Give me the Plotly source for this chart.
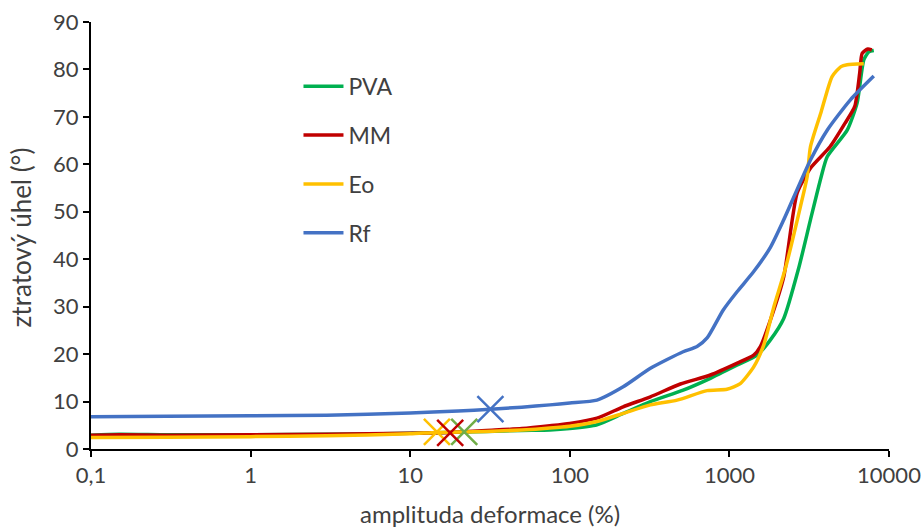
import plotly.graph_objects as go

# ---- data ----
pva_x = [0.1, 0.15, 0.3, 1, 3, 10, 21.8, 30, 50, 75, 100, 148, 216, 320, 513, 760, 1120, 1490, 1807, 2190, 2716, 3220, 3760, 4100, 5470, 6310, 6950, 7470, 8030]
pva_y = [2.9, 3.1, 3.0, 3.0, 3.1, 3.3, 3.6, 3.7, 3.9, 4.0, 4.3, 5.1, 7.5, 10.0, 12.4, 14.9, 17.7, 19.8, 23.0, 27.5, 38.1, 48.3, 57.4, 61.6, 67.2, 72.9, 82.0, 83.7, 84.0]

mm_x = [0.1, 0.15, 0.3, 1, 3, 10, 17.8, 30, 50, 75, 100, 148, 216, 320, 493, 760, 1120, 1420, 1563, 1807, 2190, 2655, 3220, 4270, 5310, 6100, 6550, 6790, 7370, 7800]
mm_y = [2.9, 3.0, 2.9, 3.0, 3.1, 3.3, 3.5, 3.9, 4.3, 4.9, 5.4, 6.5, 8.9, 11.0, 13.7, 15.6, 18.1, 19.8, 21.6, 27.2, 36.3, 53.9, 59.2, 63.7, 68.7, 72.2, 79.2, 83.4, 84.3, 84.1]

eo_x = [0.1, 0.3, 1, 3, 10, 14.7, 30, 50, 75, 100, 148, 216, 320, 470, 725, 966, 1170, 1420, 1640, 1900, 2245, 2786, 3070, 3220, 3760, 4400, 5000, 5470, 6950]
eo_y = [2.4, 2.5, 2.6, 2.8, 3.2, 3.5, 3.7, 4.0, 4.4, 4.8, 5.8, 7.5, 9.3, 10.3, 12.3, 12.6, 13.8, 17.3, 21.9, 30.0, 38.1, 51.1, 57.4, 63.7, 71.1, 78.5, 80.6, 81.0, 81.2]

rf_x = [0.1, 0.3, 1, 3, 10, 20, 31.8, 50, 75, 100, 148, 216, 320, 513, 627, 725, 915, 1120, 1420, 1807, 2190, 3220, 4100, 5730, 8030]
rf_y = [6.8, 6.9, 7.0, 7.1, 7.6, 8.0, 8.4, 8.8, 9.3, 9.7, 10.3, 13.1, 17.0, 20.5, 21.6, 23.4, 29.3, 33.2, 37.4, 42.5, 48.3, 60.9, 67.2, 73.6, 78.6]

# crossover points (X markers)
cross_names = ["Eo", "PVA", "MM", "Rf"]
cross_x = [14.7, 21.8, 17.8, 31.8]
cross_y = [3.6, 3.6, 3.4, 8.4]
cross_colors = ["#FFC000", "#70AD47", "#C00000", "#4472C4"]

x_tickvals = [0.1, 1, 10, 100, 1000, 10000]
x_ticktext = ["0,1", "1", "10", "100", "1000", "10000"]
y_tickvals = [0, 10, 20, 30, 40, 50, 60, 70, 80, 90]

x_title = "amplituda deformace (%)"
y_title = "ztratový úhel (°)"

series = [
    ("PVA", pva_x, pva_y, "#00B050"),
    ("MM", mm_x, mm_y, "#C00000"),
    ("Eo", eo_x, eo_y, "#FFC000"),
    ("Rf", rf_x, rf_y, "#4472C4"),
]

FONT = "Lato, Carlito, Calibri, sans-serif"
TXT = "#404040"

fig = go.Figure()
for i, (name, xs, ys, col) in enumerate(series):
    fig.add_trace(go.Scatter(
        x=xs, y=ys, name=name, mode="lines",
        line=dict(color=col, width=3.5, shape="spline", smoothing=0.6),
        legendgroup=f"g{i}", legendrank=i + 1,
    ))

for name, cx, cy, col in zip(cross_names, cross_x, cross_y, cross_colors):
    fig.add_trace(go.Scatter(
        x=[cx], y=[cy], mode="markers", showlegend=False,
        marker=dict(symbol="x-thin", size=26, color=col,
                    line=dict(color=col, width=2.5)),
    ))

fig.update_layout(
    width=922, height=531,
    margin=dict(l=91, r=33, t=22, b=82),
    paper_bgcolor="white", plot_bgcolor="white",
    font=dict(family=FONT, size=22, color=TXT),
    showlegend=True,
    legend=dict(
        x=0.26, y=0.90, xanchor="left", yanchor="top",
        bgcolor="rgba(0,0,0,0)", font=dict(family=FONT, size=23, color=TXT),
        traceorder="grouped", tracegroupgap=16, itemwidth=40,
    ),
    xaxis=dict(
        type="log", range=[-1, 4], automargin=False,
        tickvals=x_tickvals, ticktext=x_ticktext,
        showgrid=False, zeroline=False,
        showline=True, linecolor="black", linewidth=2,
        ticks="outside", ticklen=6, tickwidth=2, tickcolor="black",
        tickfont=dict(family=FONT, size=22, color=TXT),
    ),
    yaxis=dict(
        range=[0, 90], tickvals=y_tickvals, automargin=False,
        showgrid=False, zeroline=False,
        showline=True, linecolor="black", linewidth=2,
        ticks="outside", ticklen=6, tickwidth=2, tickcolor="black",
        tickfont=dict(family=FONT, size=22, color=TXT),
    ),
    annotations=[
        dict(text=x_title, xref="paper", yref="paper", x=0.5, y=-0.150,
             xanchor="center", yanchor="middle", showarrow=False,
             font=dict(family=FONT, size=24, color=TXT)),
        dict(text=y_title, xref="paper", yref="paper", x=-0.088, y=0.495,
             xanchor="center", yanchor="middle", showarrow=False, textangle=-90,
             font=dict(family=FONT, size=26, color=TXT)),
    ],
)

fig.write_html("out.html")
